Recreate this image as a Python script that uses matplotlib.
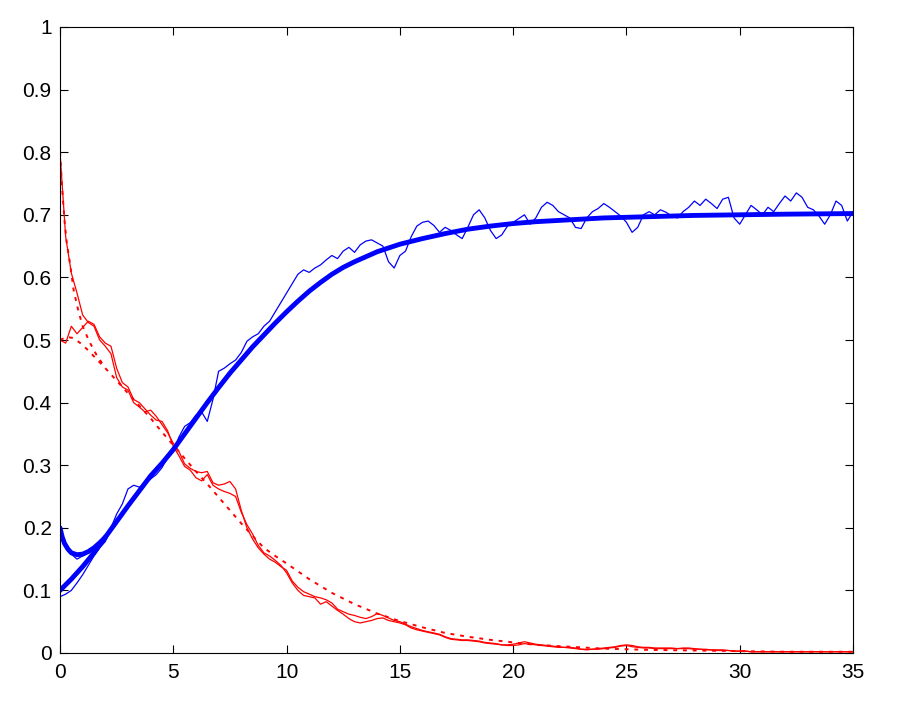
import numpy as np
import matplotlib
matplotlib.use("Agg")
import matplotlib.pyplot as plt

plt.rcParams['font.family'] = ['Liberation Sans', 'DejaVu Sans']

# ---------------- data ----------------
t_step = 0.25
# noisy (stochastic) trajectories, sampled every 0.25 from 0 to 35
blue_noisy_a = [
    0.090, 0.094, 0.100, 0.112, 0.125, 0.140, 0.155, 0.168, 0.178, 0.200,
    0.222, 0.238, 0.262, 0.268, 0.265, 0.270, 0.278, 0.285, 0.296, 0.312,
    0.322, 0.345, 0.362, 0.368, 0.380, 0.385, 0.370, 0.405, 0.450, 0.455,
    0.462, 0.468, 0.480, 0.498, 0.505, 0.510, 0.522, 0.530, 0.545, 0.560,
    0.575, 0.590, 0.605, 0.612, 0.608, 0.615, 0.620, 0.628, 0.635, 0.630,
    0.642, 0.648, 0.640, 0.652, 0.658, 0.660, 0.655, 0.650, 0.625, 0.615,
    0.635, 0.642, 0.665, 0.682, 0.688, 0.690, 0.683, 0.672, 0.680, 0.675,
    0.668, 0.662, 0.680, 0.700, 0.708, 0.695, 0.675, 0.662, 0.668, 0.682,
    0.688, 0.694, 0.700, 0.685, 0.695, 0.712, 0.720, 0.715, 0.705, 0.700,
    0.695, 0.680, 0.678, 0.695, 0.705, 0.710, 0.718, 0.712, 0.705, 0.698,
    0.688, 0.672, 0.680, 0.700, 0.705, 0.700, 0.708, 0.704, 0.698, 0.695,
    0.705, 0.712, 0.722, 0.715, 0.725, 0.718, 0.710, 0.725, 0.728, 0.695,
    0.685, 0.700, 0.715, 0.708, 0.700, 0.712, 0.705, 0.718, 0.730, 0.722,
    0.735, 0.728, 0.712, 0.708, 0.698, 0.685, 0.700, 0.722, 0.715, 0.690,
    0.705,
]
blue_noisy_b = [0.195, 0.170, 0.158, 0.150, 0.155, 0.160, 0.165, 0.170, 0.180,
                0.195, 0.215]

red_noisy_a = [
    0.800, 0.665, 0.607, 0.575, 0.540, 0.528, 0.522, 0.500, 0.490, 0.478,
    0.440, 0.425, 0.420, 0.400, 0.393, 0.385, 0.388, 0.378, 0.365, 0.352,
    0.335, 0.322, 0.302, 0.295, 0.290, 0.288, 0.290, 0.272, 0.268, 0.270,
    0.274, 0.262, 0.228, 0.200, 0.182, 0.168, 0.158, 0.150, 0.145, 0.138,
    0.132, 0.115, 0.105, 0.098, 0.094, 0.090, 0.088, 0.085, 0.080, 0.070,
    0.066, 0.062, 0.060, 0.057, 0.055, 0.058, 0.063, 0.060, 0.056, 0.052,
    0.050, 0.046, 0.042, 0.039, 0.036, 0.034, 0.032, 0.030, 0.026, 0.023,
    0.022, 0.021, 0.021, 0.020, 0.019, 0.017, 0.016, 0.015, 0.013, 0.013,
    0.014, 0.016, 0.018, 0.016, 0.014, 0.013, 0.012, 0.011, 0.010, 0.009,
    0.009, 0.008, 0.006, 0.005, 0.006, 0.007, 0.008, 0.009, 0.010, 0.012,
    0.013, 0.012, 0.010, 0.009, 0.009, 0.008, 0.008, 0.008, 0.008, 0.007,
    0.008, 0.008, 0.007, 0.006, 0.006, 0.005, 0.005, 0.005, 0.004, 0.003,
    0.003, 0.003, 0.002, 0.002, 0.002, 0.002, 0.002, 0.002, 0.002, 0.002,
    0.002, 0.002, 0.002, 0.002, 0.002, 0.002, 0.002, 0.002, 0.002, 0.002,
    0.002,
]
red_noisy_b = [
    0.500, 0.495, 0.522, 0.510, 0.520, 0.530, 0.525, 0.505, 0.495, 0.490,
    0.455, 0.432, 0.425, 0.405, 0.400, 0.390, 0.380, 0.372, 0.370, 0.355,
    0.330, 0.315, 0.298, 0.292, 0.280, 0.275, 0.285, 0.268, 0.262, 0.258,
    0.255, 0.250, 0.225, 0.205, 0.190, 0.172, 0.160, 0.155, 0.148, 0.140,
    0.128, 0.112, 0.100, 0.092, 0.090, 0.088, 0.078, 0.082, 0.075, 0.068,
    0.062, 0.055, 0.050, 0.048, 0.050, 0.052, 0.055, 0.056, 0.052, 0.050,
    0.048, 0.045, 0.040, 0.037, 0.035, 0.033, 0.031, 0.029, 0.025, 0.022,
    0.021, 0.020, 0.020, 0.019, 0.018, 0.016, 0.015, 0.014, 0.013, 0.012,
    0.012, 0.013, 0.015, 0.014, 0.013, 0.012, 0.011, 0.010, 0.009, 0.009,
    0.008, 0.007, 0.006, 0.006, 0.006, 0.006, 0.007, 0.008, 0.009, 0.011,
    0.012, 0.010, 0.009, 0.008, 0.008, 0.007, 0.007, 0.007, 0.007, 0.007,
    0.007, 0.007, 0.006, 0.006, 0.005, 0.005, 0.004, 0.004, 0.004, 0.003,
    0.003, 0.003, 0.002, 0.002, 0.002, 0.002, 0.002, 0.002, 0.002, 0.002,
    0.002, 0.002, 0.002, 0.002, 0.002, 0.002, 0.002, 0.002, 0.002, 0.002,
    0.002,
]

# deterministic (ODE) solutions
blue_thick_a_x = [0, 0.1, 0.2, 0.35, 0.5, 0.75, 1.0, 1.25, 1.5, 1.75, 2.0]
blue_thick_a_y = [0.2, 0.185, 0.175, 0.166, 0.160, 0.157, 0.158, 0.162, 0.168, 0.176, 0.185]
blue_thick_x = [0, 0.5, 1, 1.5, 2, 2.5, 3, 3.5, 4, 4.5, 5, 5.5, 6, 6.5, 7, 7.5, 8,
                8.5, 9, 9.5, 10, 10.5, 11, 11.5, 12, 12.5, 13, 14, 15, 16, 17, 18,
                19, 20, 21, 22, 24, 26, 28, 30, 32, 35]
blue_thick_y = [0.1, 0.118, 0.138, 0.16, 0.185, 0.21, 0.235, 0.259, 0.283, 0.303,
                0.325, 0.35, 0.375, 0.40, 0.424, 0.447, 0.468, 0.489, 0.508, 0.527,
                0.545, 0.562, 0.578, 0.592, 0.605, 0.616, 0.625, 0.641, 0.653,
                0.662, 0.670, 0.677, 0.682, 0.686, 0.689, 0.691, 0.695, 0.697,
                0.699, 0.700, 0.701, 0.702]

red_dot_a_x = [0, 0.1, 0.2, 0.3, 0.45, 0.6, 0.8, 1.0, 1.3, 1.6, 2.0]
red_dot_a_y = [0.80, 0.74, 0.69, 0.655, 0.62, 0.58, 0.548, 0.522, 0.497, 0.477, 0.455]
red_dot_b_x = [0, 0.3, 0.6, 0.9, 1.2, 1.6, 2.0]
red_dot_b_y = [0.50, 0.505, 0.503, 0.495, 0.485, 0.47, 0.455]
red_dot_x = [2, 2.5, 3, 3.5, 4, 4.5, 5, 5.5, 6, 6.5, 7, 7.5, 8, 8.5, 9, 9.5, 10,
             11, 12, 13, 14, 15, 16, 17, 18, 19, 20, 21, 22, 23, 24, 25, 26, 28,
             30, 32, 35]
red_dot_y = [0.455, 0.435, 0.415, 0.395, 0.375, 0.353, 0.332, 0.311, 0.29, 0.27,
             0.249, 0.228, 0.207, 0.187, 0.168, 0.155, 0.143, 0.118, 0.096, 0.078,
             0.063, 0.051, 0.041, 0.032, 0.026, 0.021, 0.017, 0.013, 0.011, 0.009,
             0.007, 0.006, 0.005, 0.004, 0.003, 0.002, 0.002]

x_ticks = [0, 5, 10, 15, 20, 25, 30, 35]
y_ticks = [0, 0.1, 0.2, 0.3, 0.4, 0.5, 0.6, 0.7, 0.8, 0.9, 1]
y_tick_labels = ['0', '0.1', '0.2', '0.3', '0.4', '0.5', '0.6', '0.7', '0.8', '0.9', '1']

# ---------------- plot ----------------
fig = plt.figure(figsize=(9, 7.02), dpi=100)
ax = fig.add_axes([60 / 900, 1 - 653 / 702, 793 / 900, 626 / 702])

def tgrid(vals):
    return np.arange(len(vals)) * t_step

BLUE = (0, 0, 1)
RED = (1, 0, 0)

ax.plot(tgrid(red_noisy_a), red_noisy_a, color=RED, lw=0.9)
ax.plot(tgrid(red_noisy_b), red_noisy_b, color=RED, lw=0.9)
dot = (0, (2.0, 3.0))
ax.plot(red_dot_a_x, red_dot_a_y, color=RED, lw=1.4, linestyle=dot)
ax.plot(red_dot_b_x, red_dot_b_y, color=RED, lw=1.4, linestyle=dot)
ax.plot(red_dot_x, red_dot_y, color=RED, lw=1.4, linestyle=dot)

ax.plot(tgrid(blue_noisy_a), blue_noisy_a, color=BLUE, lw=0.9)
ax.plot(tgrid(blue_noisy_b), blue_noisy_b, color=BLUE, lw=0.9)
ax.plot(blue_thick_a_x, blue_thick_a_y, color=BLUE, lw=3.5, solid_capstyle='round')
ax.plot(blue_thick_x, blue_thick_y, color=BLUE, lw=3.5, solid_capstyle='round')

ax.set_xlim(0, 35)
ax.set_ylim(0, 1)
ax.set_xticks(x_ticks)
ax.set_xticklabels([str(v) for v in x_ticks])
ax.set_yticks(y_ticks)
ax.set_yticklabels(y_tick_labels)
ax.tick_params(direction='in', length=6, width=0.8, top=True, right=True,
               labelsize=15, colors='black')
ax.tick_params(axis='x', pad=7)
ax.tick_params(axis='y', pad=6)
for s in ax.spines.values():
    s.set_linewidth(0.8)
    s.set_color('black')

fig.savefig('out.png', dpi=100)
